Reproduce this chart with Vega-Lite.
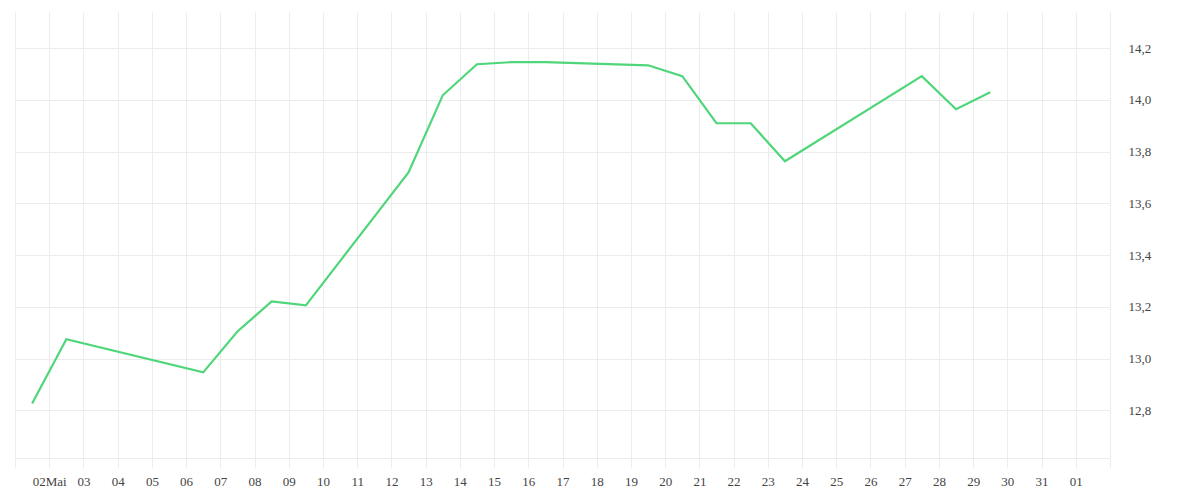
{
  "$schema": "https://vega.github.io/schema/vega-lite/v6.json",
  "autosize": "none",
  "width": 1095,
  "height": 446,
  "padding": {"left": 15, "top": 12, "right": 90, "bottom": 42},
  "background": "#ffffff",
  "config": {"view": {"stroke": null}},
  "data": {
    "values": [
      {"date": "2024-05-01T12:00:00", "value": 12.827},
      {"date": "2024-05-02T12:00:00", "value": 13.075},
      {"date": "2024-05-06T12:00:00", "value": 12.947},
      {"date": "2024-05-07T12:00:00", "value": 13.105},
      {"date": "2024-05-08T12:00:00", "value": 13.221},
      {"date": "2024-05-09T12:00:00", "value": 13.206},
      {"date": "2024-05-12T12:00:00", "value": 13.72},
      {"date": "2024-05-13T12:00:00", "value": 14.018},
      {"date": "2024-05-14T12:00:00", "value": 14.138},
      {"date": "2024-05-15T12:00:00", "value": 14.146},
      {"date": "2024-05-16T12:00:00", "value": 14.146},
      {"date": "2024-05-19T12:00:00", "value": 14.134},
      {"date": "2024-05-20T12:00:00", "value": 14.092},
      {"date": "2024-05-21T12:00:00", "value": 13.91},
      {"date": "2024-05-22T12:00:00", "value": 13.91},
      {"date": "2024-05-23T12:00:00", "value": 13.763},
      {"date": "2024-05-27T12:00:00", "value": 14.092},
      {"date": "2024-05-28T12:00:00", "value": 13.964},
      {"date": "2024-05-29T12:00:00", "value": 14.03}
    ]
  },
  "mark": {"type": "line", "color": "#4fd67a", "strokeWidth": 2.2, "clip": true},
  "encoding": {
    "x": {
      "field": "date",
      "type": "temporal",
      "scale": {"domain": [{"year": 2024, "month": 5, "date": 1}, {"year": 2024, "month": 6, "date": 2}], "nice": false},
      "axis": {
        "title": null,
        "tickCount": {"interval": "day", "step": 1},
        "grid": true,
        "gridColor": "#ececec",
        "gridWidth": 1,
        "tickColor": "#ececec",
        "tickSize": 10,
        "domainColor": "#ececec",
        "labelPadding": 7,
        "labelFont": "Liberation Serif",
        "labelFontSize": 13,
        "labelColor": "#444444",
        "labelOverlap": false,
        "labelFlush": false,
        "labelExpr": "month(datum.value) == 4 && date(datum.value) == 2 ? '02Mai' : ((month(datum.value) == 4 && date(datum.value) == 1) || (month(datum.value) == 5 && date(datum.value) == 2) ? '' : timeFormat(datum.value, '%d'))"
      }
    },
    "y": {
      "field": "value",
      "type": "quantitative",
      "scale": {"domain": [12.616, 14.34], "nice": false, "zero": false},
      "axis": {
        "orient": "right",
        "title": null,
        "values": [12.8, 13.0, 13.2, 13.4, 13.6, 13.8, 14.0, 14.2],
        "format": ".1f",
        "labelExpr": "replace(format(datum.value, '.1f'), '.', ',')",
        "grid": true,
        "gridColor": "#ececec",
        "ticks": false,
        "domain": false,
        "labelPadding": 18,
        "labelFont": "Liberation Serif",
        "labelFontSize": 13,
        "labelColor": "#444444"
      }
    }
  }
}
